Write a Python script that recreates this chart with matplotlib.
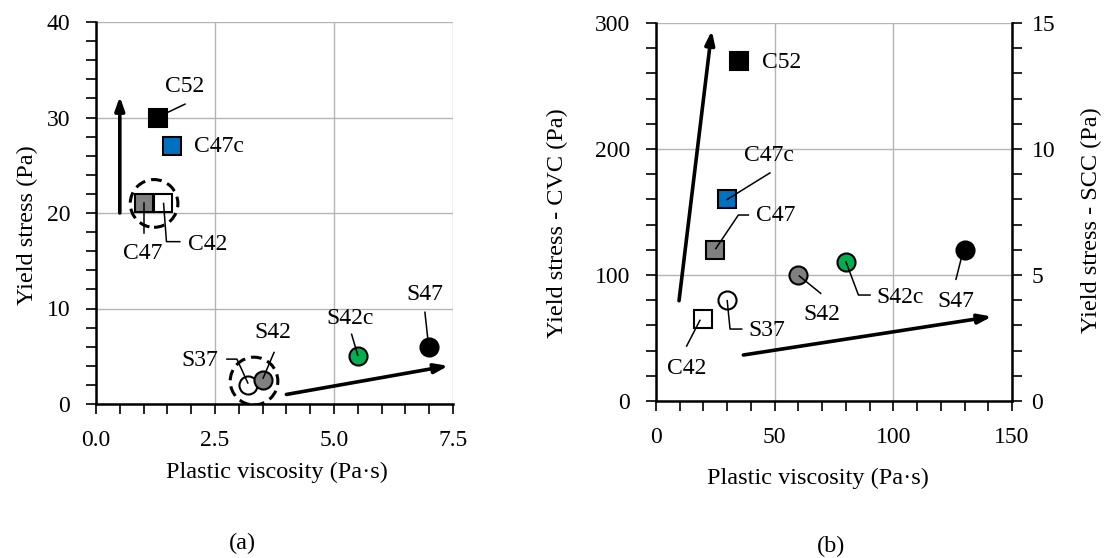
import matplotlib
matplotlib.use("Agg")
import matplotlib.pyplot as plt
from matplotlib.patches import Ellipse
from matplotlib.ticker import MultipleLocator, FormatStrFormatter

plt.rcParams['font.family'] = ['Liberation Serif', 'DejaVu Serif']
FS = 17
FS_LAB = 17.5

# ---------------- Data: panel (a) ----------------
a_names = ["C52", "C47c", "C47", "C42", "S37", "S42", "S42c", "S47"]
a_visc = [1.3, 1.6, 1.0, 1.4, 3.2, 3.5, 5.5, 7.0]
a_yield = [30, 27, 21, 21, 2.0, 2.5, 5.0, 6.0]
a_marker = ["s", "s", "s", "s", "o", "o", "o", "o"]
a_color = ["black", "#0070C0", "#808080", "white", "white", "#808080", "#00B050", "black"]
a_label_xy = [(1.87, 33.2), (2.06, 27.0), (0.99, 15.8), (1.93, 16.7),
              (2.56, 4.6), (3.72, 7.5), (5.34, 9.0), (6.91, 11.5)]
a_label_ha = ["center", "left", "center", "left", "right", "center", "center", "center"]
a_leaders = [
    [(1.49, 30.5), (1.87, 31.4)],
    None,
    [(1.0, 21.0), (1.0, 17.9)],
    [(1.42, 21.0), (1.48, 17.0), (1.76, 17.0)],
    [(2.75, 4.7), (2.96, 4.7), (3.19, 2.2)],
    [(3.74, 5.4), (3.51, 2.7)],
    [(5.37, 7.3), (5.5, 5.1)],
    [(6.91, 9.6), (6.98, 6.4)],
]
a_arrows = [((0.5, 20), (0.5, 32.2)), ((4.0, 1.0), (7.4, 4.0))]
a_groups = [(1.22, 21.0), (3.32, 2.4)]

# ---------------- Data: panel (b) ----------------
b_names = ["C52", "C47c", "C47", "C42", "S37", "S42", "S42c", "S47"]
b_visc = [35, 30, 25, 20, 30, 60, 80, 130]
b_yield_cvc = [270, 160, 120, 65, None, None, None, None]
b_yield_scc = [None, None, None, None, 4.0, 5.0, 5.5, 6.0]
b_marker = a_marker
b_color = a_color
b_label_xy = [(44.5, 269), (47.6, 195), (42.1, 147), (12.9, 26),
              (38.9, 55.6), (69.8, 69), (92.7, 82.3), (126.3, 79)]
b_label_ha = ["left", "center", "left", "center", "left", "center", "left", "center"]
b_leaders = [
    None,
    [(48.0, 181), (30, 160)],
    [(38.9, 147.6), (34.7, 147.6), (25.2, 121)],
    [(12.9, 43.6), (18.5, 64)],
    [(30, 79.6), (31.2, 57.1), (36.1, 57.1)],
    [(60.4, 99.2), (69.4, 85.4)],
    [(80, 110.6), (85.3, 84.1), (90.2, 84.1)],
    [(129.5, 119.8), (126.4, 96.6)],
]
b_arrows = [((9.7, 79.6), (23.5, 294)), ((36.8, 36.5), (141.5, 67))]

W, H = 1104, 558
fig = plt.figure(figsize=(W / 100, H / 100), dpi=100)


def style_axes(ax):
    ax.tick_params(which='both', direction='out', length=7, width=1.2,
                   labelsize=FS, colors='black')
    ax.tick_params(axis='y', pad=11.5)
    ax.tick_params(axis='x', pad=12)
    ax.grid(True, which='major', color='#b4b4b4', linewidth=1.0)
    ax.set_axisbelow(True)
    for s in ['left', 'bottom']:
        ax.spines[s].set_linewidth(1.8)
    for s in ['top', 'right']:
        ax.spines[s].set_visible(False)


def draw_arrow(ax, p0, p1):
    ax.annotate("", xy=p1, xytext=p0,
                arrowprops=dict(arrowstyle="-|>,head_length=0.8,head_width=0.28",
                                color="black", lw=2.6, shrinkA=0, shrinkB=0),
                zorder=2)


# ---------------- Panel (a) ----------------
axa = fig.add_axes([96 / W, (H - 404) / H, (453 - 96) / W, (404 - 22) / H])
style_axes(axa)
axa.set_xlim(0, 7.5)
axa.set_ylim(0, 40)
axa.xaxis.set_major_locator(MultipleLocator(2.5))
axa.xaxis.set_minor_locator(MultipleLocator(0.5))
axa.yaxis.set_major_locator(MultipleLocator(10))
axa.yaxis.set_minor_locator(MultipleLocator(2))
axa.xaxis.set_major_formatter(FormatStrFormatter('%.1f'))

for cx, cy in a_groups:
    axa.add_patch(Ellipse((cx, cy), 1.0, 5.0, fill=False, ls=(0, (3.5, 2)),
                          lw=2.2, ec='black', zorder=2))
for p0, p1 in a_arrows:
    draw_arrow(axa, p0, p1)
for x, y, m, c in zip(a_visc, a_yield, a_marker, a_color):
    axa.plot(x, y, marker=m, ms=13, mfc=c, mec='black', mew=1.5,
             ls='none', zorder=4)
for name, (tx, ty), ha, ld in zip(a_names, a_label_xy, a_label_ha, a_leaders):
    axa.text(tx, ty, name, ha=ha, va='center', fontsize=FS, zorder=6)
    if ld:
        xs, ys = zip(*ld)
        axa.plot(xs, ys, color='black', lw=1.1, zorder=5)

axa.set_xlabel("Plastic viscosity (Pa·s)", fontsize=FS_LAB)
axa.set_ylabel("Yield stress (Pa)", fontsize=FS_LAB)
axa.xaxis.set_label_coords(0.507, -0.152)
axa.yaxis.set_label_coords(-0.163, 0.469)
fig.text(242 / W, 1 - 543.5 / H, "(a)", ha='center', va='center', fontsize=FS_LAB)

# ---------------- Panel (b) ----------------
L, R, T, B = 656, 1012, 23, 401
axb = fig.add_axes([L / W, (H - B) / H, (R - L) / W, (B - T) / H])
style_axes(axb)
axb.set_xlim(0, 150)
axb.set_ylim(0, 300)
axb.xaxis.set_major_locator(MultipleLocator(50))
axb.xaxis.set_minor_locator(MultipleLocator(10))
axb.yaxis.set_major_locator(MultipleLocator(100))
axb.yaxis.set_minor_locator(MultipleLocator(20))

axb2 = axb.twinx()
axb2.set_ylim(0, 15)
axb2.yaxis.set_major_locator(MultipleLocator(5))
axb2.yaxis.set_minor_locator(MultipleLocator(1))
axb2.tick_params(which='both', direction='out', length=7, width=1.2,
                 labelsize=FS, colors='black', pad=7)
for s in ['left', 'top', 'bottom']:
    axb2.spines[s].set_visible(False)
axb2.spines['right'].set_linewidth(1.8)

for p0, p1 in b_arrows:
    draw_arrow(axb, p0, p1)
for x, y1, y2, m, c in zip(b_visc, b_yield_cvc, b_yield_scc, b_marker, b_color):
    if y1 is not None:
        axb.plot(x, y1, marker=m, ms=13, mfc=c, mec='black', mew=1.5,
                 ls='none', zorder=4)
    if y2 is not None:
        axb2.plot(x, y2, marker=m, ms=13, mfc=c, mec='black', mew=1.5,
                  ls='none', zorder=4)
for name, (tx, ty), ha, ld in zip(b_names, b_label_xy, b_label_ha, b_leaders):
    axb2.text(tx, ty / 20, name, ha=ha, va='center', fontsize=FS, zorder=6)
    if ld:
        xs, ys = zip(*ld)
        axb2.plot(xs, [v / 20 for v in ys], color='black', lw=1.1, zorder=5)

axb.set_xlabel("Plastic viscosity (Pa·s)", fontsize=FS_LAB)
axb.set_ylabel("Yield stress - CVC (Pa)", fontsize=FS_LAB)
axb2.set_ylabel("Yield stress - SCC (Pa)", fontsize=FS_LAB)
axb.xaxis.set_label_coords(0.454, -0.176)
axb.yaxis.set_label_coords(-0.247, 0.471)
axb2.yaxis.set_label_coords(1.193, 0.479)
fig.text(831.5 / W, 1 - 546 / H, "(b)", ha='center', va='center', fontsize=FS_LAB)

fig.savefig("out.png", dpi=100, facecolor='white')
